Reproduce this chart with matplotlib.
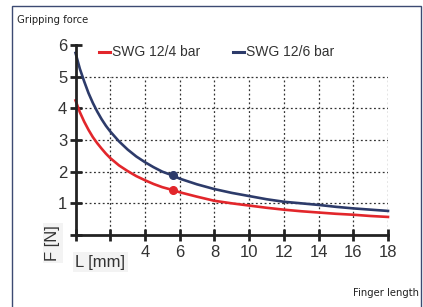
import matplotlib
matplotlib.use("Agg")
import matplotlib.pyplot as plt
from matplotlib.patches import Rectangle
from matplotlib import font_manager

# ---- data ----
L_mm = [0, 0.25, 0.5, 0.75, 1, 1.25, 1.5, 1.75, 2, 2.5, 3, 3.5, 4, 4.5, 5, 5.6, 6,
        7, 8, 9, 10, 11, 12, 13, 14, 15, 16, 17, 18]
F_4bar = [4.25, 3.88, 3.58, 3.32, 3.09, 2.90, 2.73, 2.57, 2.43, 2.20, 2.02, 1.86, 1.73, 1.61, 1.51, 1.42, 1.35,
          1.21, 1.08, 1.00, 0.93, 0.86, 0.80, 0.75, 0.71, 0.67, 0.64, 0.60, 0.57]
F_6bar = [5.75, 5.25, 4.85, 4.48, 4.17, 3.90, 3.66, 3.45, 3.27, 2.96, 2.70, 2.48, 2.30, 2.14, 2.00, 1.88, 1.78,
          1.60, 1.45, 1.33, 1.23, 1.13, 1.05, 1.00, 0.95, 0.89, 0.84, 0.80, 0.76]
mark_L = 5.6
mark_4bar = 1.43
mark_6bar = 1.89
series_names = ["SWG 12/4 bar", "SWG 12/6 bar"]
x_ticks = [0, 2, 4, 6, 8, 10, 12, 14, 16, 18]
x_ticklabels = ["", "", "4", "6", "8", "10", "12", "14", "16", "18"]
y_ticks = [0, 1, 2, 3, 4, 5, 6]
y_ticklabels = ["", "1", "2", "3", "4", "5", "6"]
grid_x = [2, 4, 6, 8, 10, 12, 14, 16, 18]
grid_y = [1, 2, 3, 4, 5]

RED = "#e2262b"
BLUE = "#2d3b6a"
W, H = 423, 307

plt.rcParams['font.family'] = ['Liberation Sans', 'DejaVu Sans']
fig = plt.figure(figsize=(W / 100, H / 100), dpi=100)

# outer frame
fig.patches.append(Rectangle((12 / W, -0.05), (421 - 12) / W, (H - 6) / H + 0.05,
                             transform=fig.transFigure, fill=False,
                             edgecolor="#3c4a72", linewidth=1.0))

ax = fig.add_axes([75.5 / W, 1 - 235 / H, (388 - 75.5) / W, (235 - 45) / H])
ax.set_xlim(0, 18)
ax.set_ylim(0, 6)
ax.patch.set_alpha(0)

# dotted grid limited to the 0..5 region
ax.vlines(grid_x, 0, max(grid_y), colors="#333333", linestyles=(0, (1.5, 2)), linewidth=0.9, zorder=1)
ax.hlines(grid_y, 0, max(grid_x), colors="#333333", linestyles=(0, (1.5, 2)), linewidth=0.9, zorder=1)

ax.plot(L_mm, F_4bar, color=RED, linewidth=1.9, zorder=3, clip_on=False, solid_joinstyle="round")
ax.plot(L_mm, F_6bar, color=BLUE, linewidth=1.9, zorder=3, clip_on=False, solid_joinstyle="round")
ax.plot([mark_L], [mark_4bar], 'o', color=RED, markersize=5.5, zorder=4)
ax.plot([mark_L], [mark_6bar], 'o', color=BLUE, markersize=5.5, zorder=4)

for s in ["top", "right"]:
    ax.spines[s].set_visible(False)
for s in ["left", "bottom"]:
    ax.spines[s].set_color("#222222")
    ax.spines[s].set_linewidth(2.0)
    ax.spines[s].set_zorder(5)

ax.set_xticks(x_ticks)
ax.set_xticklabels(x_ticklabels)
ax.set_yticks(y_ticks)
ax.set_yticklabels(y_ticklabels)
ax.tick_params(axis="both", direction="inout", length=8, width=2.0, color="#222222",
               labelsize=12, labelcolor="#333333")
ax.tick_params(axis="x", pad=3)
ax.tick_params(axis="y", pad=2)

# axis labels in place of the 0/2 tick labels
fig.text(100 / W, 1 - 262 / H, "L [mm]", fontsize=12, color="#333333",
         ha="center", va="center",
         bbox=dict(boxstyle="square,pad=0.15", facecolor="#f3f3f3", edgecolor="none"))
fig.text(53 / W, 1 - 243 / H, "F [N]", fontsize=12, color="#333333", rotation=90,
         ha="center", va="center",
         bbox=dict(boxstyle="square,pad=0.15", facecolor="#f3f3f3", edgecolor="none"))

# legend drawn manually
leg_y = 1 - 52 / H
for x0, name, col in [(99, series_names[0], RED), (233, series_names[1], BLUE)]:
    fig.lines.append(plt.Line2D([x0 / W, (x0 + 11) / W], [leg_y, leg_y],
                                transform=fig.transFigure, color=col, linewidth=2.2))
    fig.text((x0 + 13) / W, leg_y, name, fontsize=10, color="#333333",
             ha="left", va="center")

# narrow font for the corner captions
names = {f.name for f in font_manager.fontManager.ttflist}
if 'Liberation Sans Narrow' in names:
    cond = dict(family=['Liberation Sans Narrow', 'DejaVu Sans'])
else:
    cond = dict(family=['DejaVu Sans'], stretch='condensed')
fig.text(17 / W, 1 - 20 / H, "Gripping force", fontsize=8, color="#222222",
         ha="left", va="center", **cond)
fig.text(419 / W, 1 - 293 / H, "Finger length", fontsize=8, color="#222222",
         ha="right", va="center", **cond)

fig.savefig("out.png", dpi=100)
